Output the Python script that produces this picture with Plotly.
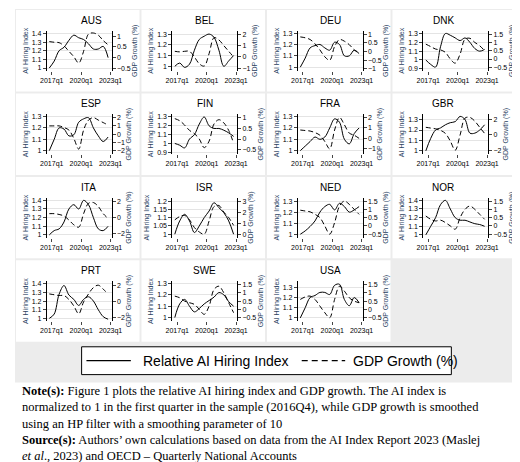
import plotly.graph_objects as go

W, H = 520, 462
x_q = [2016.75 + 0.5 * i for i in range(13)]
countries = ["AUS", "BEL", "DEU", "DNK", "ESP", "FIN", "FRA", "GBR",
             "ITA", "ISR", "NED", "NOR", "PRT", "SWE", "USA"]
ai = {
 "AUS": [1.0,1.08,1.2,1.24,1.32,1.38,1.35,1.33,1.28,1.22,1.22,1.25,1.12],
 "BEL": [1.0,1.03,0.99,1.02,1.15,1.25,1.28,1.3,1.27,1.15,1.0,1.05,1.1],
 "DEU": [1.0,1.08,1.17,1.19,1.2,1.17,1.15,1.22,1.2,1.1,1.1,1.15,1.12],
 "DNK": [1.0,0.95,0.92,1.15,1.3,1.28,1.25,1.22,1.25,1.2,1.13,1.1,1.12],
 "ESP": [1.0,1.1,1.2,1.19,1.13,1.14,1.25,1.28,1.29,1.2,1.13,1.08,1.12],
 "FIN": [1.0,0.98,0.95,1.05,1.1,1.22,1.3,1.2,1.17,1.17,1.15,1.12,1.08],
 "FRA": [1.0,1.04,1.08,1.12,1.1,1.12,1.2,1.28,1.25,1.1,1.06,1.15,1.2],
 "GBR": [1.0,1.12,1.2,1.22,1.25,1.27,1.28,1.33,1.3,1.17,1.17,1.2,1.25],
 "ITA": [1.0,1.05,1.07,1.15,1.3,1.35,1.3,1.4,1.35,1.2,1.07,1.05,1.1],
 "ISR": [1.0,1.08,1.12,1.08,1.01,1.05,1.1,1.14,1.19,1.16,1.13,1.08,1.0],
 "NED": [1.0,1.03,1.07,1.12,1.2,1.25,1.27,1.22,1.28,1.25,1.2,1.22,1.25],
 "NOR": [1.0,1.1,1.2,1.35,1.4,1.3,1.2,1.17,1.17,1.15,1.13,1.12,1.1],
 "PRT": [1.0,1.05,1.28,1.38,1.27,1.22,1.15,1.22,1.25,1.2,1.1,1.02,0.99],
 "SWE": [1.0,1.12,1.16,1.1,1.05,1.08,1.12,1.15,1.18,1.22,1.2,1.14,1.1],
 "USA": [1.0,1.1,1.2,1.22,1.25,1.25,1.23,1.32,1.33,1.18,1.12,1.2,1.15],
}
gdp = {
 "AUS": [0.75,0.72,0.7,0.55,0.3,0.05,-0.25,0.3,1.1,1.15,1.05,0.8,0.6],
 "BEL": [0.5,0.45,0.5,0.5,0.0,-0.6,-0.8,0.3,1.7,1.5,1.0,0.5,0.0],
 "DEU": [0.85,0.8,0.7,0.45,0.1,-0.3,-0.5,0.3,0.7,0.6,0.4,0.1,-0.1],
 "DNK": [0.9,0.75,0.6,0.55,0.4,0.0,-0.25,0.3,1.2,1.25,1.0,0.8,0.5],
 "ESP": [1.0,1.0,1.0,0.8,0.5,-0.5,-1.8,0.5,1.7,2.0,1.7,1.4,1.1],
 "FIN": [0.95,0.85,0.65,0.4,0.25,0.0,-0.4,-0.1,0.7,0.9,0.75,0.4,-0.2],
 "FRA": [0.8,0.75,0.7,0.55,0.3,-0.3,-1.0,0.8,2.0,1.3,0.5,0.3,0.0],
 "GBR": [1.0,0.9,0.8,0.6,0.2,-0.8,-2.0,0.0,2.2,2.3,1.8,1.0,0.2],
 "ITA": [0.5,0.5,0.4,0.2,-0.3,-0.9,-1.2,0.5,1.8,1.9,1.4,0.5,-0.1],
 "ISR": [1.3,1.6,1.7,1.3,0.6,0.2,0.0,1.2,2.5,2.6,2.0,1.5,0.8],
 "NED": [0.95,0.9,0.85,0.7,0.5,0.0,-0.5,0.2,1.2,1.5,1.3,1.0,0.7],
 "NOR": [0.6,0.4,0.3,0.35,0.2,0.0,-0.2,0.5,1.0,1.2,1.0,0.7,0.4],
 "PRT": [1.0,0.9,0.8,0.8,0.3,-0.5,-1.5,0.0,1.0,1.8,2.1,1.6,1.0],
 "SWE": [0.8,0.7,0.5,0.4,0.3,0.0,-0.3,0.2,1.2,1.4,1.0,0.4,-0.2],
 "USA": [0.6,0.75,0.8,0.6,0.2,-0.2,-0.5,0.6,1.4,1.1,0.7,0.5,0.4],
}
left_rng = {"AUS":[0.97,1.43],"BEL":[0.96,1.33],"DEU":[0.97,1.32],"DNK":[0.88,1.33],
 "ESP":[0.97,1.32],"FIN":[0.88,1.33],"FRA":[0.97,1.32],"GBR":[0.97,1.35],
 "ITA":[0.97,1.43],"ISR":[0.98,1.22],"NED":[0.97,1.33],"NOR":[0.97,1.43],
 "PRT":[0.97,1.43],"SWE":[0.97,1.32],"USA":[0.97,1.36]}
right_rng = {"AUS":[-0.6,1.25],"BEL":[-1.2,2.3],"DEU":[-1.1,1.2],"DNK":[-0.7,1.7],
 "ESP":[-2.4,2.4],"FIN":[-0.7,1.15],"FRA":[-1.5,2.3],"GBR":[-2.5,2.7],
 "ITA":[-2.5,2.5],"ISR":[-0.3,3.3],"NED":[-0.7,1.7],"NOR":[-0.7,1.7],
 "PRT":[-2.4,2.6],"SWE":[-0.7,1.7],"USA":[-0.7,1.7]}
x_tickvals = [2017, 2020, 2023]
x_ticktext = ["2017q1", "2020q1", "2023q1"]
legend_labels = ["Relative AI Hiring Index", "GDP Growth (%)"]

fig = go.Figure()
shapes = [dict(type="rect", xref="paper", yref="paper", x0=0, x1=1,
               y0=1 - 376 / H, y1=1, fillcolor="#ececec", line_width=0, layer="below")]
annos = []
tf = dict(family="Liberation Sans, Arial", size=7, color="black")
DASH = "5px,3px"
for i, c in enumerate(countries):
    r, col = divmod(i, 4)
    n = i + 1
    px0, px1 = col * 130 + 33, col * 130 + 100
    pt, pb = 22 + r * 84, 62 + r * 84
    shapes.append(dict(type="rect", xref="paper", yref="paper",
                       x0=(col * 130 + 1) / W, x1=(col * 130 + 129) / W,
                       y0=1 - (r * 84 + 83) / H, y1=1 - (r * 84 + 1) / H,
                       fillcolor="white", line_width=0, layer="below"))
    xa, ya, ya2 = f"x{n}", f"y{2*n-1}", f"y{2*n}"
    fig.add_trace(go.Scatter(x=x_q, y=ai[c], xaxis=xa, yaxis=ya, mode="lines",
                             line=dict(color="black", width=1, shape="spline"),
                             showlegend=False))
    fig.add_trace(go.Scatter(x=x_q, y=gdp[c], xaxis=xa, yaxis=ya2, mode="lines",
                             line=dict(color="black", width=1, dash=DASH, shape="spline"),
                             showlegend=False))
    sfx = "" if n == 1 else str(n)
    fig.layout[f"xaxis{sfx}"] = dict(domain=[px0 / W, px1 / W], anchor=ya,
        range=[2016.5, 2023.1], tickvals=x_tickvals, ticktext=x_ticktext,
        ticks="outside", ticklen=3, tickfont=tf, showgrid=False, zeroline=False)
    ysfx1 = "" if 2 * n - 1 == 1 else str(2 * n - 1)
    fig.layout[f"yaxis{ysfx1}"] = dict(domain=[1 - pb / H, 1 - pt / H], anchor=xa,
        range=left_rng[c], ticks="outside", ticklen=3, tickfont=tf, showline=True,
        linecolor="black", linewidth=1, showgrid=True, gridcolor="#e4e4e4",
        zeroline=False, nticks=5,
        title=dict(text="AI Hiring Index", font=dict(family="Liberation Sans", size=7), standoff=2))
    fig.layout[f"yaxis{2*n}"] = dict(overlaying=ya, side="right", anchor=xa,
        range=right_rng[c], ticks="outside", ticklen=3, tickfont=tf, showline=True,
        linecolor="black", linewidth=1, showgrid=False, zeroline=False, nticks=5,
        title=dict(text="GDP Growth (%)", font=dict(family="Liberation Sans", size=7), standoff=2))
    annos.append(dict(text=c, xref="paper", yref="paper", x=(px0 + px1) / 2 / W,
                      y=1 - (pt - 3) / H, yanchor="bottom", showarrow=False,
                      font=dict(family="Liberation Sans, Arial", size=10, color="black")))

# manual legend box
shapes.append(dict(type="rect", xref="paper", yref="paper", x0=69 / W, x1=452 / W,
                   y0=1 - 368 / H, y1=1 - 340 / H, fillcolor="white",
                   line=dict(color="black", width=1)))
ly = 1 - 354 / H
shapes.append(dict(type="line", xref="paper", yref="paper", x0=74 / W, x1=120 / W,
                   y0=ly, y1=ly, line=dict(color="black", width=1.3)))
shapes.append(dict(type="line", xref="paper", yref="paper", x0=297 / W, x1=342 / W,
                   y0=ly, y1=ly, line=dict(color="black", width=1.3, dash="6px,4px")))
lf = dict(family="Liberation Sans, Arial", size=14, color="black")
annos.append(dict(text=legend_labels[0], xref="paper", yref="paper", x=130 / W, y=ly,
                  xanchor="left", yanchor="middle", showarrow=False, font=lf))
annos.append(dict(text=legend_labels[1], xref="paper", yref="paper", x=348 / W, y=ly,
                  xanchor="left", yanchor="middle", showarrow=False, font=lf))

annos.append(dict(xref="paper", yref="paper", x=5 / W, y=1 - 375 / H, xanchor="left",
    yanchor="top", align="left", showarrow=False,
    font=dict(family="Liberation Serif, Times New Roman", size=12.5, color="black"),
    text="<b>Note(s):</b> Figure 1 plots the relative AI hiring index and GDP growth. The AI index is<br>"
         "normalized to 1 in the first quarter in the sample (2016Q4), while GDP growth is smoothed<br>"
         "using an HP filter with a smoothing parameter of 10<br>"
         "<b>Source(s):</b> Authors’ own calculations based on data from the AI Index Report 2023 (Maslej<br>"
         "<i>et al</i>., 2023) and OECD – Quarterly National Accounts"))

fig.update_layout(width=W, height=H, margin=dict(l=0, r=0, t=0, b=0),
    paper_bgcolor="white", plot_bgcolor="white", shapes=shapes, annotations=annos,
    showlegend=False)
fig.write_html("out.html")
